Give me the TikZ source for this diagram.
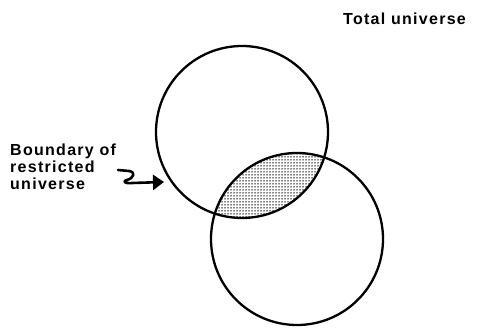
\documentclass[tikz,border=0pt]{standalone}
\usepackage{fontspec}
\setmainfont{Liberation Sans}[LetterSpace=8]
\usetikzlibrary{arrows.meta,patterns.meta}
\tikzdeclarepattern{
  name=densedots, type=uncolored,
  bounding box={(-1.5pt,-1.5pt) and (1.5pt,1.5pt)},
  tile size={(3pt,3pt)},
  code={\pgfpathcircle{\pgfpointorigin}{0.75pt}\pgfusepath{fill}}
}
\tikzset{
  ring/.style={line width=2.3pt},
  lbl/.style={font=\bfseries\fontsize{16}{19}\selectfont, inner sep=0pt, anchor=base west},
  pointer/.style={line width=2.6pt, line cap=round, line join=round, -{Triangle[length=11pt,width=15pt]}}
}
\begin{document}
\begin{tikzpicture}[x=1pt,y=-1pt]
\useasboundingbox (0,0) rectangle (479,328);
\coordinate (c1) at (242,132);
\coordinate (c2) at (297,239);
\begin{scope}
  \clip (c1) circle (86pt);
  \fill[pattern=densedots, pattern color=black] (c2) circle (86pt);
\end{scope}
\draw[ring] (c1) circle (86pt);
\draw[ring] (c2) circle (86pt);
\node[lbl] (tot) at (343,25) {Total universe};
\node[lbl] (b1) at (10,156) {Boundary of};
\node[lbl] (b2) at (10,173) {restricted};
\node[lbl] (b3) at (10,190) {universe};
\coordinate (s0) at (118,170);
\coordinate (tip) at (164,182);
\draw[pointer] (s0) -- (129,171) .. controls (136,172) and (134,178) .. (127,180)
  .. controls (122,181) and (125,184) .. (132,183) -- (tip);
\end{tikzpicture}
\end{document}
